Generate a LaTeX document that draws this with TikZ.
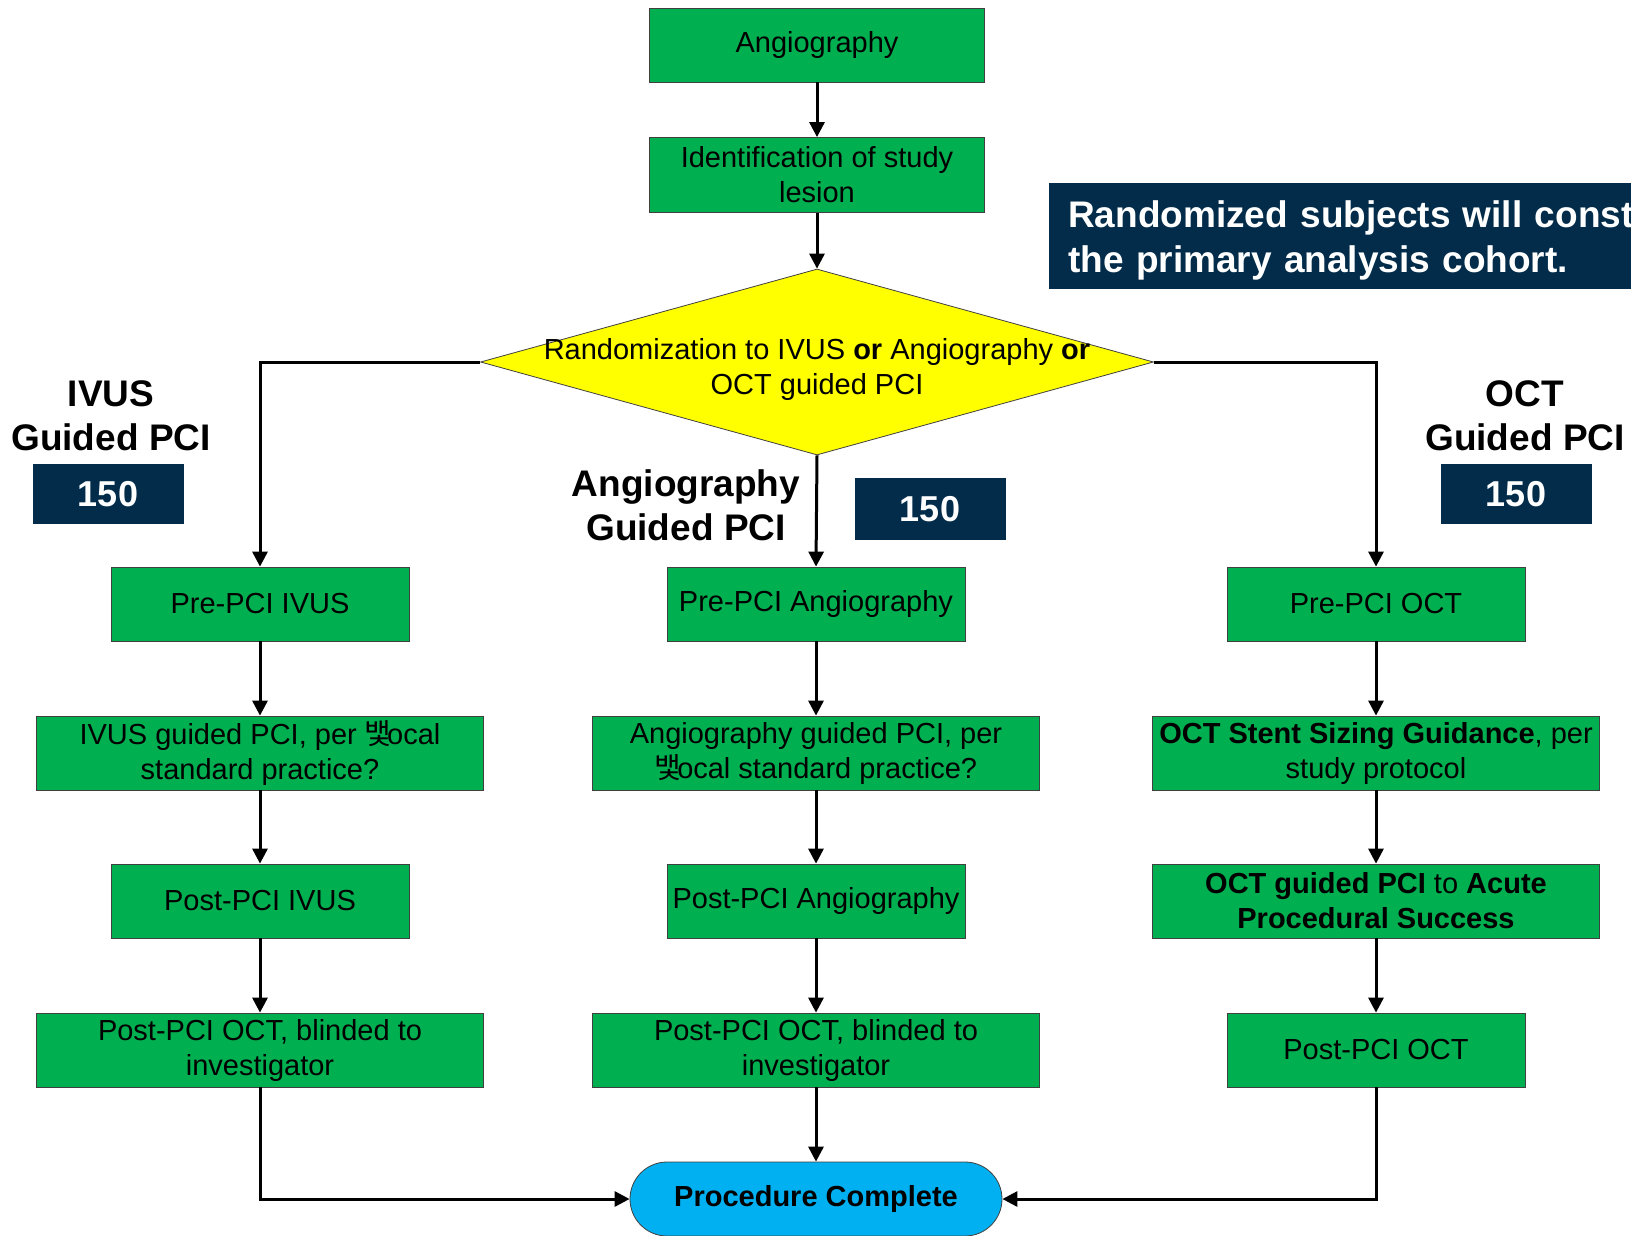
\documentclass[tikz,border=0pt]{standalone}
\usepackage{fontspec}
\setmainfont{Liberation Sans}
\newfontfamily\kr{Noto Sans CJK KR}
\usetikzlibrary{shapes.geometric,shapes.misc,arrows.meta}
\definecolor{pgreen}{HTML}{00B050}
\definecolor{navy}{HTML}{022C4A}
\definecolor{pblue}{HTML}{00B0F0}
\definecolor{pyellow}{HTML}{FFFF00}
\tikzset{
  body/.style={font=\fontsize{29}{35}\selectfont},
  gbox/.style={body, draw=black!75, line width=0.8pt, fill=pgreen, align=center, inner sep=0pt, minimum height=74pt},
  narrow/.style={gbox, minimum width=298pt},
  wide/.style={gbox, minimum width=447pt},
  navybox/.style={fill=navy, text=white, font=\bfseries\fontsize{36}{42}\selectfont, inner sep=0pt, minimum width=151pt, minimum height=60pt},
  grplabel/.style={font=\bfseries\fontsize{37}{44}\selectfont, align=center},
  arr/.style={line width=3pt, -{Triangle[length=15pt,width=15pt]}},
}
\begin{document}
\begin{tikzpicture}[x=1pt,y=-1pt]
\useasboundingbox (0,0) rectangle (1631,1235);
% top
\node[gbox, minimum width=335pt] (ang) at (817,45) {Angiography};
\node[gbox, minimum width=335pt, minimum height=75pt] (ident) at (817,175) {Identification of study\\lesion};
\node[diamond, draw=black!75, line width=0.8pt, fill=pyellow, inner sep=0pt,
      minimum width=673pt, minimum height=186pt, aspect=3.6] (dia) at (817,362) {};
\node[body, align=center] (diatext) at (817,369)
  {Randomization to IVUS \textbf{or} Angiography \textbf{or}\\OCT guided PCI};
% banner
\node[fill=navy, text=white, font=\bfseries\fontsize{37}{45}\selectfont, align=left, anchor=north west,
      inner xsep=19pt, inner ysep=0pt, minimum height=106pt, text width=600pt] (banner) at (1049,183)
  {\rule{0pt}{36pt}Randomized subjects will const\\the primary analysis cohort.};
% group labels
\node[grplabel] (livus) at (111,416) {IVUS\\Guided PCI};
\node[navybox] (nivus) at (108,494) {150};
\node[grplabel] (langio) at (686,505) {Angiography\\Guided PCI};
\node[navybox, minimum height=62pt] (nangio) at (930,509) {150};
\node[grplabel] (loct) at (1525,416) {OCT\\Guided PCI};
\node[navybox] (noct) at (1516,494) {150};
% column IVUS
\node[narrow] (a1) at (260,604) {Pre-PCI IVUS};
\node[wide] (a2) at (260,753) {IVUS guided PCI, per {\kr 뱇}\kern-0.15em ocal\\standard practice?};
\node[narrow] (a3) at (260,901) {Post-PCI IVUS};
\node[wide] (a4) at (260,1050) {Post-PCI OCT, blinded to\\investigator};
% column Angio
\node[narrow] (b1) at (816,604) {Pre-PCI Angiography};
\node[wide] (b2) at (816,753) {Angiography guided PCI, per\\{\kr 뱇}\kern-0.15em ocal standard practice?};
\node[narrow] (b3) at (816,901) {Post-PCI Angiography};
\node[wide] (b4) at (816,1050) {Post-PCI OCT, blinded to\\investigator};
% column OCT
\node[narrow] (c1) at (1376,604) {Pre-PCI OCT};
\node[wide] (c2) at (1376,753) {\textbf{OCT Stent Sizing Guidance}, per\\study protocol};
\node[wide] (c3) at (1376,901) {\textbf{OCT guided PCI} to \textbf{Acute}\\\textbf{Procedural Success}};
\node[narrow] (c4) at (1376,1050) {Post-PCI OCT};
% end
\node[rounded rectangle, draw=black!75, line width=0.8pt, fill=pblue, font=\bfseries\fontsize{29}{35}\selectfont,
      minimum width=372pt, minimum height=74pt, inner sep=0pt] (proc) at (816,1199) {Procedure Complete};
% connectors
\draw[arr] (ang) -- (ident);
\draw[arr] (ident) -- (dia);
\draw[arr] (dia.west) -| (a1.north);
\draw[arr] (dia.east) -| (c1.north);
\draw[arr] (dia.south) -- (b1.north);
\draw[arr] (a1) -- (a2);
\draw[arr] (a2) -- (a3);
\draw[arr] (a3) -- (a4);
\draw[arr] (b1) -- (b2);
\draw[arr] (b2) -- (b3);
\draw[arr] (b3) -- (b4);
\draw[arr] (c1) -- (c2);
\draw[arr] (c2) -- (c3);
\draw[arr] (c3) -- (c4);
\draw[arr] (b4) -- (proc);
\draw[arr] (a4.south) |- (proc.west);
\draw[arr] (c4.south) |- (proc.east);
\end{tikzpicture}
\end{document}
